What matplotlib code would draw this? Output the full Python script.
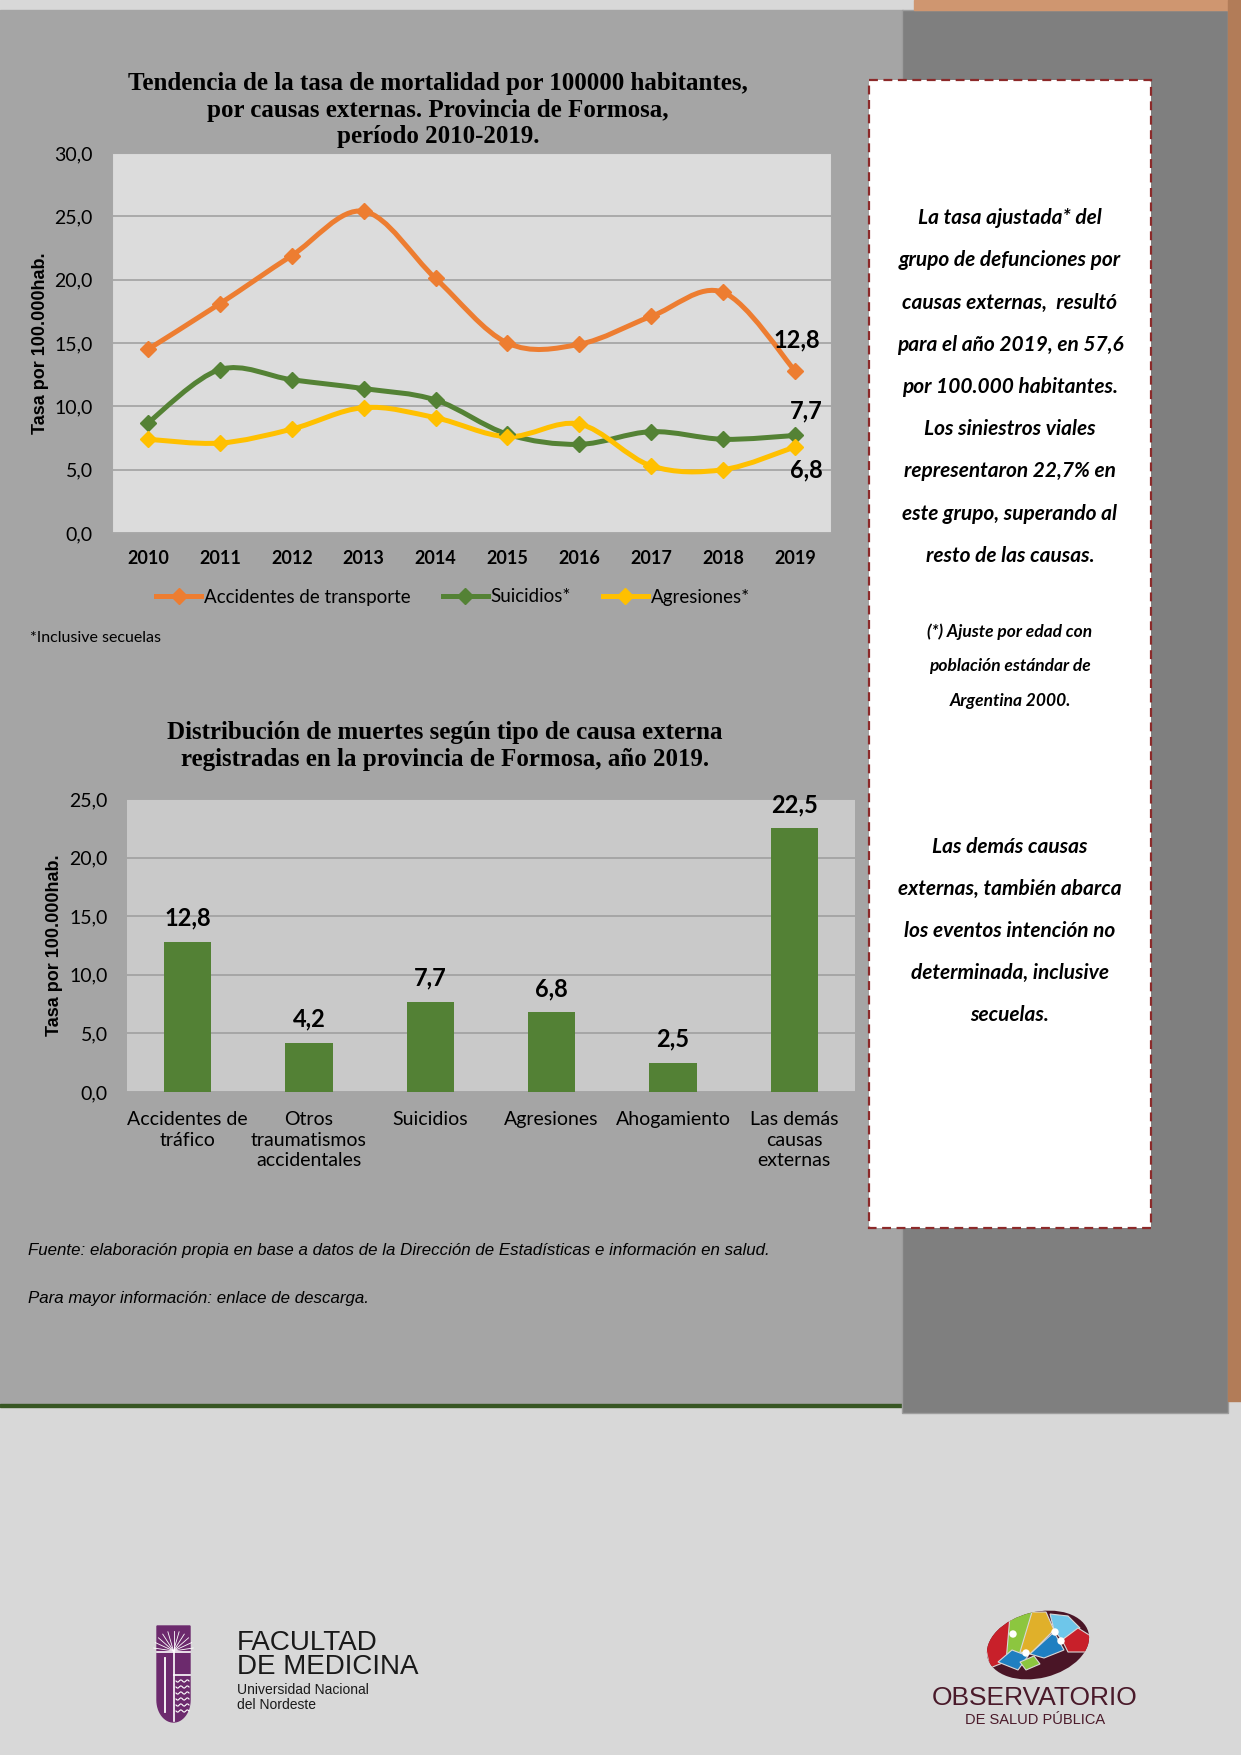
import numpy as np
import matplotlib
matplotlib.use("Agg")
import matplotlib.pyplot as plt
import matplotlib.font_manager as fm
from matplotlib.path import Path
from matplotlib.patches import PathPatch, Rectangle, Polygon, Ellipse
from matplotlib.lines import Line2D

# ------------------------------------------------------------------
# datos
# ------------------------------------------------------------------
years = ["2010", "2011", "2012", "2013", "2014", "2015", "2016", "2017", "2018", "2019"]
accidentes = [14.5, 18.1, 21.9, 25.4, 20.1, 15.0, 14.9, 17.1, 19.0, 12.8]
suicidios = [8.7, 12.9, 12.1, 11.4, 10.5, 7.8, 7.0, 8.0, 7.4, 7.7]
agresiones = [7.4, 7.1, 8.2, 9.9, 9.1, 7.6, 8.6, 5.3, 5.0, 6.8]
series_names = ["Accidentes de transporte", "Suicidios*", "Agresiones*"]

bar_labels = ["Accidentes de\ntráfico", "Otros\ntraumatismos\naccidentales", "Suicidios",
              "Agresiones", "Ahogamiento", "Las demás\ncausas\nexternas"]
bar_values = [12.8, 4.2, 7.7, 6.8, 2.5, 22.5]

line_yticks = [0, 5, 10, 15, 20, 25, 30]
bar_yticks = [0, 5, 10, 15, 20, 25]

# ------------------------------------------------------------------
# fuentes
# ------------------------------------------------------------------
names = {f.name for f in fm.fontManager.ttflist}
SANS = "Lato" if "Lato" in names else "DejaVu Sans"
NARROW = "Liberation Sans Narrow" if "Liberation Sans Narrow" in names else "Liberation Sans"
SERIF = "Liberation Serif"
ARIAL = "Liberation Sans"
plt.rcParams["font.family"] = [SANS, "DejaVu Sans"]

ORANGE = "#ED7D31"
GREEN = "#548235"
YELLOW = "#FFC000"
BAR_GREEN = "#538135"

W, H = 1241, 1755
fig = plt.figure(figsize=(W / 100, H / 100), dpi=100)

# fondo en coordenadas de pixel
bg = fig.add_axes([0, 0, 1, 1])
bg.set_xlim(0, W)
bg.set_ylim(H, 0)
bg.axis("off")
bg.add_patch(Rectangle((0, 0), W, H, color="#d8d8d8", zorder=0))
bg.add_patch(Rectangle((0, 10), 903, 1394, color="#a5a5a5", zorder=1))
bg.add_patch(Rectangle((0, 1403.5), 903, 3.5, color="#375623", zorder=2))
bg.add_patch(Rectangle((902, 10), 326, 1403, facecolor="#7f7f7f", edgecolor="#9d9d9d", lw=1, zorder=2))
bg.add_patch(Rectangle((914, 0), W - 914, 10, color="#cf9670", zorder=2))
bg.add_patch(Rectangle((1228, 0), 13, 1401, color="#b27c58", zorder=2))
bg.add_patch(Rectangle((869, 80), 282, 1148, facecolor="white", edgecolor="#8c2a2a",
                       lw=1.6, ls=(0, (4, 2.5)), zorder=3))


def px_axes(x0, y0, x1, y1):
    return fig.add_axes([x0 / W, 1 - y1 / H, (x1 - x0) / W, (y1 - y0) / H])


def smooth_path(xs, ys):
    # curva suavizada tipo Excel (bezier con tangentes catmull-rom)
    pts = np.column_stack([xs, ys]).astype(float)
    n = len(pts)
    verts = [pts[0]]
    codes = [Path.MOVETO]
    for i in range(n - 1):
        p0 = pts[max(i - 1, 0)]
        p1 = pts[i]
        p2 = pts[i + 1]
        p3 = pts[min(i + 2, n - 1)]
        verts += [p1 + (p2 - p0) / 6, p2 - (p3 - p1) / 6, p2]
        codes += [Path.CURVE4] * 3
    return Path(verts, codes)


# ------------------------------------------------------------------
# grafico de lineas
# ------------------------------------------------------------------
bg.text(438, 110, "Tendencia de la tasa de mortalidad por 100000 habitantes,\n"
        "por causas externas. Provincia de Formosa,\nperíodo 2010-2019.",
        ha="center", va="center", fontsize=18, fontweight="bold", family=SERIF,
        linespacing=1.2, zorder=5)

ax1 = px_axes(112, 153, 831, 533)
ax1.set_facecolor("#dcdcdc")
x = np.arange(len(years))
for vals, col in zip([accidentes, suicidios, agresiones], [ORANGE, GREEN, YELLOW]):
    ax1.add_patch(PathPatch(smooth_path(x, vals), fill=False, edgecolor=col, lw=3.6,
                            capstyle="round", joinstyle="round", zorder=3))
    ax1.plot(x, vals, ls="none", marker="D", ms=8.5, color=col, zorder=4)

ax1.set_xlim(-0.5, len(years) - 0.5)
ax1.set_ylim(0, 30)
ax1.set_yticks(line_yticks)
ax1.set_yticklabels([f"{v:.1f}".replace(".", ",") for v in line_yticks], fontsize=14)
ax1.set_xticks(x)
ax1.set_xticklabels(years, fontsize=13, fontweight="bold")
ax1.tick_params(axis="both", length=0)
ax1.tick_params(axis="y", pad=14)
ax1.tick_params(axis="x", pad=12)
ax1.grid(axis="y", color="#a6a6a6", lw=1.3)
ax1.set_axisbelow(True)
for s in ax1.spines.values():
    s.set_color("#a6a6a6")
ax1.set_ylabel("Tasa por 100.000hab.", family=ARIAL, fontweight="bold", fontsize=13,
               va="center")
ax1.yaxis.set_label_coords(-0.1, 0.5)

ax1.annotate("12,8", (9, accidentes[-1]), xytext=(1, 22), textcoords="offset points",
             ha="center", va="center", fontsize=17, fontweight="bold", zorder=6)
ax1.annotate("7,7", (9, suicidios[-1]), xytext=(8, 18), textcoords="offset points",
             ha="center", va="center", fontsize=17, fontweight="bold", zorder=6)
ax1.annotate("6,8", (9, agresiones[-1]), xytext=(8, -16.5), textcoords="offset points",
             ha="center", va="center", fontsize=17, fontweight="bold", zorder=6)

handles = [Line2D([], [], color=c, lw=3.6, marker="D", ms=8.5) for c in [ORANGE, GREEN, YELLOW]]
fig.legend(handles, series_names, loc="center", bbox_to_anchor=(453 / W, 1 - 597 / H),
           ncol=3, frameon=False, fontsize=13.5, handlelength=2.4, handletextpad=0.15,
           columnspacing=1.7)

bg.text(30, 638, "*Inclusive secuelas", ha="left", va="center", fontsize=11.5, zorder=5)

# ------------------------------------------------------------------
# grafico de barras
# ------------------------------------------------------------------
bg.text(445, 746, "Distribución de muertes según tipo de causa externa\n"
        "registradas en la provincia de Formosa, año 2019.",
        ha="center", va="center", fontsize=18, fontweight="bold", family=SERIF,
        linespacing=1.25, zorder=5)

ax2 = px_axes(127, 799, 855, 1092)
ax2.set_facecolor("#c9c9c9")
xb = np.arange(len(bar_values))
bars = ax2.bar(xb, bar_values, width=0.39, color=BAR_GREEN, zorder=3)
for b, v in zip(bars, bar_values):
    ax2.annotate(f"{v:.1f}".replace(".", ","), (b.get_x() + b.get_width() / 2, v),
                 xytext=(0, 17), textcoords="offset points", ha="center", va="center",
                 fontsize=17, fontweight="bold")
ax2.set_xlim(-0.5, len(bar_values) - 0.5)
ax2.set_ylim(0, 25)
ax2.set_yticks(bar_yticks)
ax2.set_yticklabels([f"{v:.1f}".replace(".", ",") for v in bar_yticks], fontsize=14)
ax2.set_xticks(xb)
ax2.set_xticklabels(bar_labels, fontsize=14, linespacing=1.25, va="top")
ax2.tick_params(axis="both", length=0)
ax2.tick_params(axis="y", pad=14)
ax2.tick_params(axis="x", pad=14)
ax2.grid(axis="y", color="#a3a3a3", lw=1.3)
ax2.set_axisbelow(True)
for s in ax2.spines.values():
    s.set_visible(False)
ax2.set_ylabel("Tasa por 100.000hab.", family=ARIAL, fontweight="bold", fontsize=13,
               va="center")
ax2.yaxis.set_label_coords(-0.1, 0.5)

# notas al pie
bg.text(28, 1250, "Fuente: elaboración propia en base a datos de la Dirección de Estadísticas "
        "e información en salud.", ha="left", va="center", fontsize=12.2, style="italic",
        family=NARROW, zorder=5)
bg.text(28, 1299, "Para mayor información: enlace de descarga.", ha="left", va="center",
        fontsize=12.2, style="italic", family=NARROW, zorder=5)

# ------------------------------------------------------------------
# recuadro de texto
# ------------------------------------------------------------------
box_txt1 = ("La tasa ajustada* del\ngrupo de defunciones por\ncausas externas,  resultó\n"
            "para el año 2019, en 57,6\npor 100.000 habitantes.\nLos siniestros viales\n"
            "representaron 22,7% en\neste grupo, superando al\nresto de las causas.")
box_txt2 = "(*) Ajuste por edad con\npoblación estándar de\nArgentina 2000."
box_txt3 = ("Las demás causas\nexternas, también abarca\nlos eventos intención no\n"
            "determinada, inclusive\nsecuelas.")
bg.text(1010, 387, box_txt1, ha="center", va="center", fontsize=15, fontweight="bold",
        style="italic", linespacing=2.39, zorder=5)
bg.text(1010, 666, box_txt2, ha="center", va="center", fontsize=12.5, fontweight="bold",
        style="italic", linespacing=2.41, zorder=5)
bg.text(1010, 931, box_txt3, ha="center", va="center", fontsize=15, fontweight="bold",
        style="italic", linespacing=2.38, zorder=5)

# ------------------------------------------------------------------
# logos
# ------------------------------------------------------------------
PURPLE = "#6c2a6d"
t = np.linspace(0, np.pi, 30)
shield = [(157, 1626), (190, 1626), (190, 1700)]
shield += [(173.5 + 16.5 * np.cos(a), 1700 + 22 * np.sin(a)) for a in t]
shield += [(157, 1700)]
bg.add_patch(Polygon(shield, closed=True, color=PURPLE, zorder=5))
for a in np.linspace(0.15, np.pi - 0.15, 11):
    bg.plot([173.5, 173.5 + 20 * np.cos(a)], [1651, 1651 - 20 * np.sin(a)], color="white",
            lw=0.6, zorder=6)
bg.plot([157, 190], [1652, 1652], color="white", lw=1.2, zorder=6)
bg.plot([173.5, 173.5], [1652, 1721], color="white", lw=1.2, zorder=6)
bg.plot([173.5, 190], [1675, 1675], color="white", lw=1.2, zorder=6)
for yy in [1681, 1687, 1693, 1699, 1705, 1711]:
    bg.plot(np.linspace(176, 189, 12), yy + 1.2 * np.sin(np.linspace(0, 4 * np.pi, 12)),
            color="white", lw=0.8, zorder=6)
bg.plot([165, 165], [1658, 1712], color="white", lw=1.3, zorder=6)
bg.text(237, 1643, "FACULTAD", ha="left", va="center", fontsize=20, family=NARROW,
        color="#1a1a1a", zorder=6)
bg.text(237, 1667, "DE MEDICINA", ha="left", va="center", fontsize=20, family=NARROW,
        color="#1a1a1a", zorder=6)
bg.text(237, 1690, "Universidad Nacional", ha="left", va="center", fontsize=10,
        family=NARROW, color="#1a1a1a", zorder=6)
bg.text(237, 1705, "del Nordeste", ha="left", va="center", fontsize=10, family=NARROW,
        color="#1a1a1a", zorder=6)

# cerebro del observatorio
brain = Ellipse((1038, 1645), 104, 66, angle=-14, facecolor="#4a1526", edgecolor="none", zorder=5)
bg.add_patch(brain)
pieces = [
    ([(984, 1640), (1000, 1620), (1012, 1616), (1010, 1660), (990, 1668)], "#c8202a"),
    ([(1010, 1616), (1032, 1610), (1040, 1620), (1018, 1660), (1006, 1662)], "#8cc63f"),
    ([(1032, 1612), (1046, 1612), (1054, 1630), (1030, 1654), (1020, 1652)], "#e0b02a"),
    ([(1050, 1614), (1068, 1616), (1080, 1628), (1062, 1640), (1054, 1630)], "#6ec6ea"),
    ([(1062, 1640), (1078, 1628), (1094, 1638), (1088, 1652), (1068, 1652)], "#c8202a"),
    ([(1030, 1654), (1054, 1632), (1064, 1650), (1044, 1658)], "#1f7fc1"),
    ([(998, 1662), (1012, 1650), (1028, 1656), (1018, 1670)], "#1f7fc1"),
    ([(1020, 1662), (1034, 1656), (1040, 1664), (1026, 1670)], "#8cc63f"),
]
for pts, col in pieces:
    p = Polygon(pts, closed=True, facecolor=col, edgecolor="#d8d8d8", lw=0.8, zorder=6)
    p.set_clip_path(brain)
    bg.add_patch(p)
for cx, cy in [(1013, 1634), (1055, 1632), (1061, 1641), (1026, 1653)]:
    bg.add_patch(Ellipse((cx, cy), 6, 6, color="white", zorder=7))
bg.text(1035, 1698, "OBSERVATORIO", ha="center", va="center", fontsize=19, family=NARROW,
        color="#4a1a2a", zorder=6)
bg.text(1035, 1720, "DE SALUD PÚBLICA", ha="center", va="center", fontsize=10.5,
        family=NARROW, color="#4a1a2a", zorder=6)

fig.savefig("out.png", dpi=100)
